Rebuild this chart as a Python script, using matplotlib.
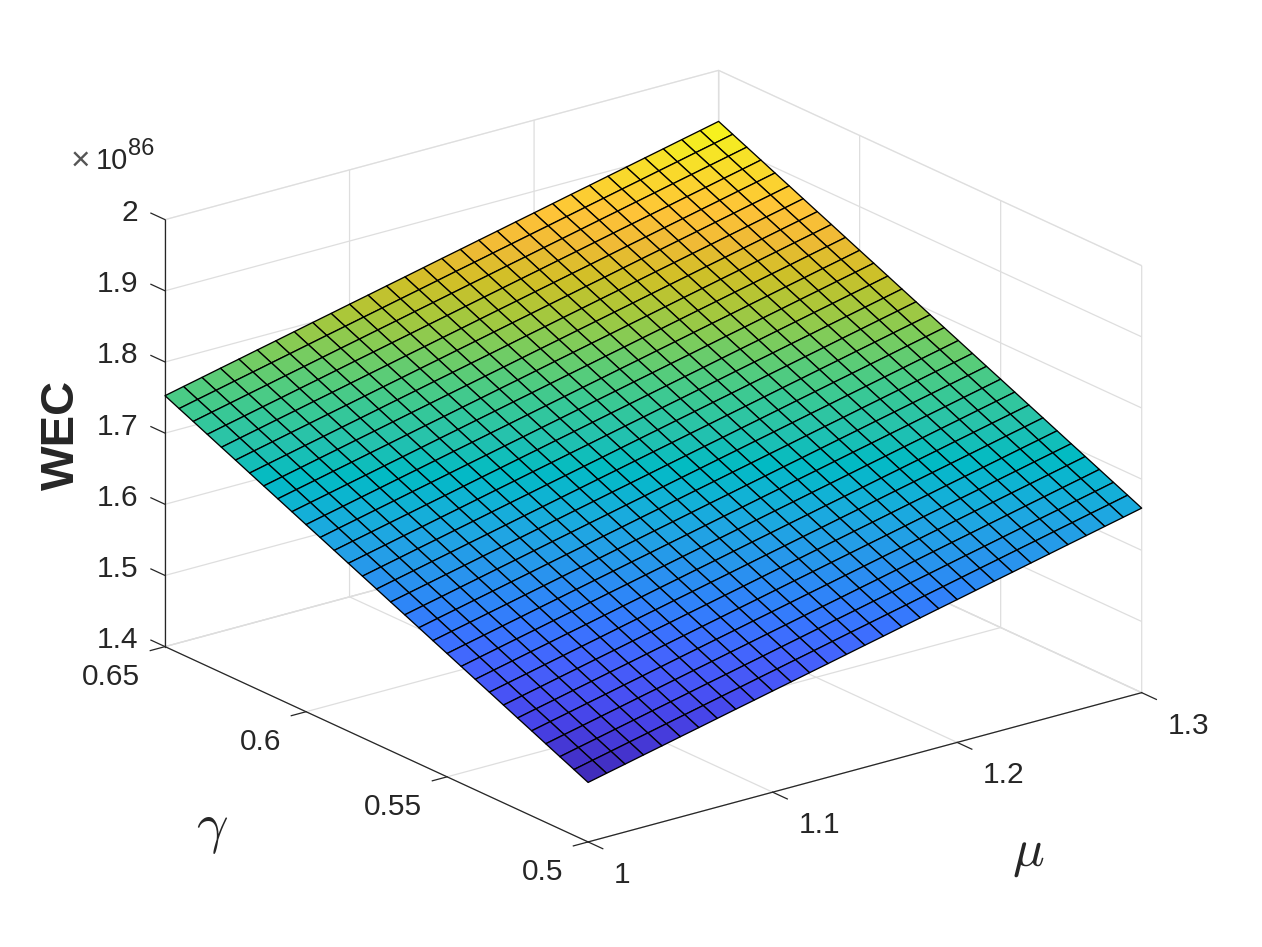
import numpy as np
import matplotlib
matplotlib.use('Agg')
import matplotlib.pyplot as plt
from matplotlib.colors import LinearSegmentedColormap
from mpl_toolkits.mplot3d import proj3d

# axes values
mu = [1.00,1.01,1.02,1.03,1.04,1.05,1.06,1.07,1.08,1.09,1.10,1.11,1.12,1.13,1.14,1.15,
      1.16,1.17,1.18,1.19,1.20,1.21,1.22,1.23,1.24,1.25,1.26,1.27,1.28,1.29,1.30]
gamma = [0.500,0.505,0.510,0.515,0.520,0.525,0.530,0.535,0.540,0.545,0.550,0.555,0.560,0.565,0.570,0.575,
         0.580,0.585,0.590,0.595,0.600,0.605,0.610,0.615,0.620,0.625,0.630,0.635,0.640,0.645,0.650]

mu_ticks = [1, 1.1, 1.2, 1.3]
mu_labels = ['1', '1.1', '1.2', '1.3']
gamma_ticks = [0.5, 0.55, 0.6, 0.65]
gamma_labels = ['0.5', '0.55', '0.6', '0.65']
wec_ticks = [1.4, 1.5, 1.6, 1.7, 1.8, 1.9, 2]
wec_labels = ['1.4', '1.5', '1.6', '1.7', '1.8', '1.9', '2']

# WEC, in units of 1e82, one row per gamma
wec = [
[14836,14895,14953,15012,15070,15129,15187,15246,15305,15363,15422,15480,15539,15597,15656,15715,15773,15832,15890,15949,16007,16066,16125,16183,16242,16300,16359,16417,16476,16534,16593],
[14926,14985,15043,15102,15160,15219,15277,15336,15395,15453,15512,15570,15629,15687,15746,15805,15863,15922,15980,16039,16097,16156,16215,16273,16332,16390,16449,16507,16566,16624,16683],
[15015,15074,15132,15191,15249,15308,15366,15425,15484,15542,15601,15659,15718,15776,15835,15894,15952,16011,16069,16128,16186,16245,16304,16362,16421,16479,16538,16596,16655,16713,16772],
[15105,15164,15222,15281,15339,15398,15456,15515,15574,15632,15691,15749,15808,15866,15925,15984,16042,16101,16159,16218,16276,16335,16394,16452,16511,16569,16628,16686,16745,16803,16862],
[15195,15254,15312,15371,15429,15488,15546,15605,15664,15722,15781,15839,15898,15956,16015,16074,16132,16191,16249,16308,16366,16425,16484,16542,16601,16659,16718,16776,16835,16893,16952],
[15284,15343,15401,15460,15518,15577,15635,15694,15753,15811,15870,15928,15987,16045,16104,16163,16221,16280,16338,16397,16455,16514,16573,16631,16690,16748,16807,16865,16924,16982,17041],
[15374,15433,15491,15550,15608,15667,15725,15784,15843,15901,15960,16018,16077,16135,16194,16253,16311,16370,16428,16487,16545,16604,16663,16721,16780,16838,16897,16955,17014,17072,17131],
[15464,15523,15581,15640,15698,15757,15815,15874,15933,15991,16050,16108,16167,16225,16284,16343,16401,16460,16518,16577,16635,16694,16753,16811,16870,16928,16987,17045,17104,17162,17221],
[15553,15612,15670,15729,15787,15846,15904,15963,16022,16080,16139,16197,16256,16314,16373,16432,16490,16549,16607,16666,16724,16783,16842,16900,16959,17017,17076,17134,17193,17251,17310],
[15643,15702,15760,15819,15877,15936,15994,16053,16112,16170,16229,16287,16346,16404,16463,16522,16580,16639,16697,16756,16814,16873,16932,16990,17049,17107,17166,17224,17283,17341,17400],
[15733,15792,15850,15909,15967,16026,16084,16143,16202,16260,16319,16377,16436,16494,16553,16612,16670,16729,16787,16846,16904,16963,17022,17080,17139,17197,17256,17314,17373,17431,17490],
[15822,15881,15939,15998,16056,16115,16173,16232,16291,16349,16408,16466,16525,16583,16642,16701,16759,16818,16876,16935,16993,17052,17111,17169,17228,17286,17345,17403,17462,17520,17579],
[15912,15971,16029,16088,16146,16205,16263,16322,16381,16439,16498,16556,16615,16673,16732,16791,16849,16908,16966,17025,17083,17142,17201,17259,17318,17376,17435,17493,17552,17610,17669],
[16002,16061,16119,16178,16236,16295,16353,16412,16471,16529,16588,16646,16705,16763,16822,16881,16939,16998,17056,17115,17173,17232,17291,17349,17408,17466,17525,17583,17642,17700,17759],
[16091,16150,16208,16267,16325,16384,16442,16501,16560,16618,16677,16735,16794,16852,16911,16970,17028,17087,17145,17204,17262,17321,17380,17438,17497,17555,17614,17672,17731,17789,17848],
[16181,16240,16298,16357,16415,16474,16532,16591,16650,16708,16767,16825,16884,16942,17001,17060,17118,17177,17235,17294,17352,17411,17470,17528,17587,17645,17704,17762,17821,17879,17938],
[16271,16330,16388,16447,16505,16564,16622,16681,16740,16798,16857,16915,16974,17032,17091,17150,17208,17267,17325,17384,17442,17501,17560,17618,17677,17735,17794,17852,17911,17969,18028],
[16360,16419,16477,16536,16594,16653,16711,16770,16829,16887,16946,17004,17063,17121,17180,17239,17297,17356,17414,17473,17531,17590,17649,17707,17766,17824,17883,17941,18000,18058,18117],
[16450,16509,16567,16626,16684,16743,16801,16860,16919,16977,17036,17094,17153,17211,17270,17329,17387,17446,17504,17563,17621,17680,17739,17797,17856,17914,17973,18031,18090,18148,18207],
[16540,16599,16657,16716,16774,16833,16891,16950,17009,17067,17126,17184,17243,17301,17360,17419,17477,17536,17594,17653,17711,17770,17829,17887,17946,18004,18063,18121,18180,18238,18297],
[16629,16688,16746,16805,16863,16922,16980,17039,17098,17156,17215,17273,17332,17390,17449,17508,17566,17625,17683,17742,17800,17859,17918,17976,18035,18093,18152,18210,18269,18327,18386],
[16719,16778,16836,16895,16953,17012,17070,17129,17188,17246,17305,17363,17422,17480,17539,17598,17656,17715,17773,17832,17890,17949,18008,18066,18125,18183,18242,18300,18359,18417,18476],
[16809,16868,16926,16985,17043,17102,17160,17219,17278,17336,17395,17453,17512,17570,17629,17688,17746,17805,17863,17922,17980,18039,18098,18156,18215,18273,18332,18390,18449,18507,18566],
[16898,16957,17015,17074,17132,17191,17249,17308,17367,17425,17484,17542,17601,17659,17718,17777,17835,17894,17952,18011,18069,18128,18187,18245,18304,18362,18421,18479,18538,18596,18655],
[16988,17047,17105,17164,17222,17281,17339,17398,17457,17515,17574,17632,17691,17749,17808,17867,17925,17984,18042,18101,18159,18218,18277,18335,18394,18452,18511,18569,18628,18686,18745],
[17078,17137,17195,17254,17312,17371,17429,17488,17547,17605,17664,17722,17781,17839,17898,17957,18015,18074,18132,18191,18249,18308,18367,18425,18484,18542,18601,18659,18718,18776,18835],
[17167,17226,17284,17343,17401,17460,17518,17577,17636,17694,17753,17811,17870,17928,17987,18046,18104,18163,18221,18280,18338,18397,18456,18514,18573,18631,18690,18748,18807,18865,18924],
[17257,17316,17374,17433,17491,17550,17608,17667,17726,17784,17843,17901,17960,18018,18077,18136,18194,18253,18311,18370,18428,18487,18546,18604,18663,18721,18780,18838,18897,18955,19014],
[17347,17406,17464,17523,17581,17640,17698,17757,17816,17874,17933,17991,18050,18108,18167,18226,18284,18343,18401,18460,18518,18577,18636,18694,18753,18811,18870,18928,18987,19045,19104],
[17436,17495,17553,17612,17670,17729,17787,17846,17905,17963,18022,18080,18139,18197,18256,18315,18373,18432,18490,18549,18607,18666,18725,18783,18842,18900,18959,19017,19076,19134,19193],
[17526,17585,17643,17702,17760,17819,17877,17936,17995,18053,18112,18170,18229,18287,18346,18405,18463,18522,18580,18639,18697,18756,18815,18873,18932,18990,19049,19107,19166,19224,19283],
]

# MATLAB parula, every few entries
parula = LinearSegmentedColormap.from_list('parula', [
    (0.2422,0.1504,0.6603),(0.2647,0.1978,0.7952),(0.2783,0.2559,0.8991),(0.2810,0.3228,0.9579),
    (0.2699,0.3892,0.9906),(0.2206,0.4603,0.9973),(0.1786,0.5289,0.9682),(0.1540,0.5902,0.9218),
    (0.1248,0.6459,0.8883),(0.0689,0.6948,0.8394),(0.0067,0.7312,0.7660),(0.1408,0.7584,0.6842),
    (0.2161,0.7843,0.5923),(0.3406,0.8008,0.4789),(0.5044,0.7993,0.3480),(0.6720,0.7793,0.2227),
    (0.8203,0.7498,0.1535),(0.9393,0.7285,0.2098),(0.9970,0.7659,0.2199),(0.9786,0.8386,0.1766),
    (0.9597,0.9135,0.1423),(0.9769,0.9839,0.0805)])

plt.rcParams['font.family'] = ['Liberation Sans', 'DejaVu Sans']
dark = '#262626'
light = '#dedede'

W, H = 1262, 947
fig = plt.figure(figsize=(W / 100, H / 100), dpi=100)
ax = fig.add_axes([5.3 / W, -157.2 / H, 1, W / H], projection='3d', proj_type='ortho')
ax.patch.set_alpha(0)
ax.view_init(elev=20.66, azim=-127.39)
ax.set_box_aspect((696.7, 696.7, 456.3), zoom=0.8353)

M, G = np.meshgrid(mu, gamma)
Z = np.array(wec) / 10000
ax.plot_surface(M, G, Z, rstride=1, cstride=1, cmap=parula, shade=False, vmin=1.478, vmax=1.934,
                edgecolor='black', linewidth=0.95, antialiased=True)

# ticks stick out along the neighbouring axis
for m in mu_ticks:
    ax.plot([m, m], [0.5, 0.4948], [1.4, 1.4], color=dark, lw=0.9)
for g in gamma_ticks:
    ax.plot([1, 0.992], [g, g], [1.4, 1.4], color=dark, lw=0.9)
for w in wec_ticks:
    ax.plot([1, 1], [0.65, 0.655], [w, w], color=dark, lw=0.9)

ax.set_xlim(1, 1.3, view_margin=0)
ax.set_ylim(0.5, 0.65, view_margin=0)
ax.set_zlim(1.4, 2, view_margin=0)
ax.set_xticks(mu_ticks)
ax.set_yticks(gamma_ticks)
ax.set_zticks(wec_ticks)
ax.set_xticklabels([])
ax.set_yticklabels([])
ax.set_zticklabels([])

for axis in (ax.xaxis, ax.yaxis, ax.zaxis):
    axis.pane.set_facecolor('white')
    axis.pane.set_edgecolor(light)
    axis.pane.set_linewidth(0.9)
    axis.line.set_color(dark)
    axis.line.set_linewidth(0.9)
    axis._axinfo['grid'].update(color=light, linewidth=0.9)
    axis._axinfo['tick'].update(inward_factor=0.0, outward_factor=0.0)


def tick_label(text, x, y, z, dx, dy, ha):
    x2, y2, _ = proj3d.proj_transform(x, y, z, ax.get_proj())
    ax.annotate(text, (x2, y2), xytext=(dx, dy), textcoords='offset pixels', ha=ha, va='center',
                fontsize=21.5, color=dark, annotation_clip=False)


for m, s in zip(mu_ticks, mu_labels):
    tick_label(s, m, 0.5, 1.4, 26, -33, 'left')
for g, s in zip(gamma_ticks, gamma_labels):
    tick_label(s, 1, g, 1.4, -25, -30, 'right')
for w, s in zip(wec_ticks, wec_labels):
    tick_label(s, 1, 0.65, w, -27, 6.5, 'right')

fig.text(40 / W, 1 - 435 / H, 'WEC', rotation=90, fontsize=34, fontweight='bold', color=dark,
         ha='left', va='center')
fig.text(80.5 / W, 1 - 161.5 / H, '×', fontsize=24, color='#555555', ha='center', va='center')
fig.text(96 / W, 1 - 169 / H, '10', fontsize=21, color=dark, ha='left', va='baseline')
fig.text(128 / W, 1 - 155 / H, '86', fontsize=17, color=dark, ha='left', va='baseline')
fig.text(212 / W, 1 - 830 / H, r'$\gamma$', fontsize=40, math_fontfamily='cm', color=dark,
         ha='center', va='center')
fig.text(1028.5 / W, 1 - 854 / H, r'$\mu$', fontsize=38, math_fontfamily='cm', color=dark,
         ha='center', va='center')

fig.savefig('out.png', dpi=100)
